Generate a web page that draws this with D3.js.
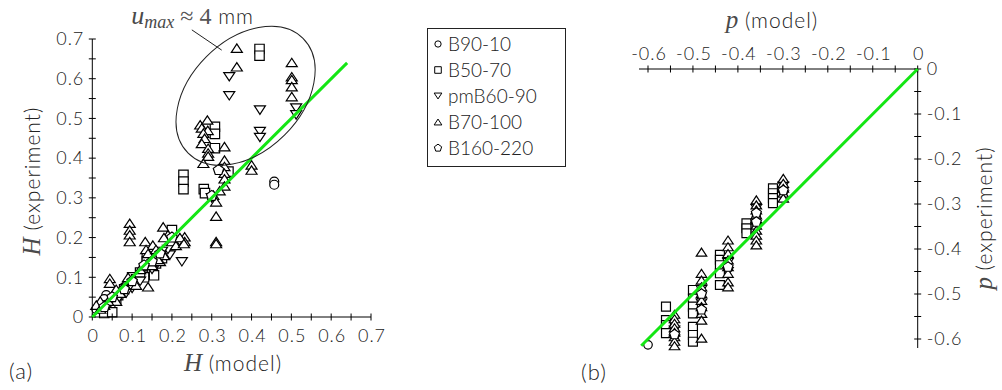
<!DOCTYPE html>
<html>
<head>
<meta charset="utf-8">
<script src="https://cdn.jsdelivr.net/npm/d3@7"></script>
<style>
  body { margin: 0; background: #fff; }
  svg text { font-family: Lato, "DejaVu Sans", sans-serif; font-weight: 300; fill: #222; }
  .math { font-family: "Liberation Serif", "DejaVu Serif", serif; font-style: italic; font-weight: 400; fill: #4a4a4a; letter-spacing: 0; }
  .roman { font-family: "Liberation Serif", "DejaVu Serif", serif; font-weight: 400; fill: #555; }
  .tick text { letter-spacing: 1px; }
</style>
</head>
<body>
<svg id="chart" width="1002" height="390"></svg>
<script>
// ---------- (a) H: model vs experiment, [model, experiment] ----------
const hB90_10 = [[0.457,0.341],[0.457,0.333],[0.035,0.055],[0.03,0.045],[0.02,0.03],[0.06,0.06],
  [0.08,0.075],[0.22,0.19],[0.2,0.18],[0.15,0.15],[0.01,0.02]];
const hB50_70 = [[0.42,0.675],[0.42,0.658],[0.308,0.479],[0.308,0.461],[0.308,0.425],[0.229,0.358],
  [0.229,0.341],[0.229,0.322],[0.28,0.322],[0.283,0.312],[0.342,0.366],[0.2,0.219],[0.137,0.152],
  [0.137,0.14],[0.14,0.128],[0.15,0.115],[0.155,0.105],[0.1,0.1],[0.11,0.095],[0.08,0.07],
  [0.065,0.055],[0.045,0.03],[0.035,0.02],[0.03,0.01],[0.05,0.012],[0.175,0.16],[0.175,0.148],
  [0.13,0.1],[0.12,0.112],[0.06,0.045],[0.16,0.135]];
const hPmB60_90 = [[0.344,0.605],[0.344,0.557],[0.421,0.521],[0.421,0.467],[0.421,0.452],[0.512,0.526],
  [0.512,0.509],[0.225,0.139],[0.195,0.156],[0.19,0.17],[0.16,0.13],[0.12,0.09],[0.1,0.072],
  [0.085,0.06],[0.065,0.045],[0.15,0.12],[0.22,0.19],[0.3,0.3],[0.04,0.03],[0.175,0.165]];
const hB70_100 = [[0.363,0.677],[0.363,0.63],[0.501,0.641],[0.501,0.605],[0.501,0.598],[0.501,0.58],
  [0.501,0.555],[0.271,0.484],[0.275,0.476],[0.289,0.496],[0.29,0.47],[0.279,0.463],[0.282,0.45],
  [0.275,0.437],[0.291,0.425],[0.291,0.413],[0.291,0.405],[0.279,0.387],[0.332,0.429],[0.332,0.395],
  [0.332,0.379],[0.332,0.362],[0.332,0.348],[0.332,0.33],[0.4,0.383],[0.4,0.37],[0.304,0.307],
  [0.311,0.29],[0.311,0.254],[0.311,0.19],[0.311,0.185],[0.32,0.318],
  [0.094,0.236],[0.094,0.219],[0.094,0.207],[0.094,0.19],[0.133,0.19],[0.152,0.181],[0.178,0.227],
  [0.19,0.207],[0.232,0.202],[0.232,0.19],[0.14,0.076],[0.044,0.097],[0.044,0.085],[0.135,0.17],
  [0.14,0.16],[0.16,0.17],[0.18,0.2],[0.155,0.15],[0.17,0.14],[0.2,0.19],[0.21,0.18],[0.12,0.12],
  [0.1,0.09],[0.08,0.08],[0.06,0.07],[0.05,0.05],[0.02,0.04],[0.01,0.03],[0.03,0.03],[0.06,0.04],
  [0.09,0.1],[0.11,0.08],[0.15,0.13],[0.07,0.06],[0.04,0.04],[0.02,0.02],[0.22,0.2],[0.18,0.155],
  [0.165,0.145],[0.23,0.185]];
const hB160_220 = [[0.317,0.37],[0.3,0.305],[0.2,0.2],[0.15,0.14],[0.1,0.09],[0.05,0.05],[0.17,0.16],
  [0.08,0.07],[0.13,0.13],[0.03,0.025]];

// ---------- (b) p: model vs experiment, [model, experiment] ----------
const pB90_10 = [[-0.6,-0.613],[-0.299,-0.27],[-0.359,-0.33]];
const pB50_70 = [[-0.56,-0.528],[-0.56,-0.558],[-0.56,-0.569],[-0.56,-0.587],
  [-0.5,-0.491],[-0.5,-0.51],[-0.5,-0.528],[-0.5,-0.543],[-0.5,-0.573],[-0.5,-0.591],[-0.5,-0.606],
  [-0.44,-0.413],[-0.44,-0.424],[-0.44,-0.436],[-0.44,-0.454],[-0.44,-0.48],
  [-0.381,-0.343],[-0.381,-0.354],[-0.381,-0.365],
  [-0.322,-0.265],[-0.322,-0.276],[-0.322,-0.287],[-0.322,-0.298]];
const pPmB60_90 = [[-0.541,-0.58],[-0.541,-0.6],[-0.481,-0.49],[-0.481,-0.52],[-0.422,-0.43],
  [-0.422,-0.45],[-0.359,-0.31],[-0.359,-0.35],[-0.299,-0.26],[-0.299,-0.28]];
const pB70_100 = [[-0.541,-0.545],[-0.541,-0.555],[-0.541,-0.565],[-0.541,-0.575],[-0.541,-0.585],
  [-0.541,-0.595],[-0.541,-0.605],[-0.541,-0.615],
  [-0.481,-0.407],[-0.481,-0.454],[-0.481,-0.469],[-0.481,-0.484],[-0.481,-0.499],[-0.481,-0.514],
  [-0.481,-0.528],[-0.481,-0.543],[-0.481,-0.558],[-0.481,-0.598],
  [-0.422,-0.38],[-0.422,-0.395],[-0.422,-0.41],[-0.422,-0.424],[-0.422,-0.439],[-0.422,-0.454],
  [-0.422,-0.473],[-0.422,-0.484],
  [-0.359,-0.291],[-0.359,-0.302],[-0.359,-0.313],[-0.359,-0.324],[-0.359,-0.336],[-0.359,-0.347],
  [-0.359,-0.358],[-0.359,-0.369],[-0.359,-0.38],[-0.359,-0.391],
  [-0.299,-0.243],[-0.299,-0.254],[-0.299,-0.265],[-0.299,-0.276],[-0.299,-0.287]];
const pB160_220 = [[-0.541,-0.59],[-0.481,-0.5],[-0.481,-0.535],[-0.422,-0.44],[-0.359,-0.32],
  [-0.359,-0.34],[-0.299,-0.27]];

// ---------- legend, ticks, reference lines ----------
const seriesNames = ["B90-10", "B50-70", "pmB60-90", "B70-100", "B160-220"];
const hTicks = [0, 0.1, 0.2, 0.3, 0.4, 0.5, 0.6, 0.7];
const hMinorTicks = [0.05, 0.15, 0.25, 0.35, 0.45, 0.55, 0.65];
const pTicks = [-0.6, -0.5, -0.4, -0.3, -0.2, -0.1, 0];
const pMinorTicks = [-0.55, -0.45, -0.35, -0.25, -0.15, -0.05];
const hIdentity = [[0, 0], [0.64, 0.64]];
const pIdentity = [[0, 0], [-0.615, -0.615]];

// ---------- marker shapes ----------
function markerPath(kind, s) {
  const p = d3.path();
  if (kind === 0) { p.arc(0, 0, s * 0.45, 0, 2 * Math.PI); }
  else if (kind === 1) { const h = s * 0.47; p.rect(-h, -h, 2 * h, 2 * h); }
  else if (kind === 2) { const w = s * 0.55, h = s * 0.42; p.moveTo(-w, -h); p.lineTo(w, -h); p.lineTo(0, h); p.closePath(); }
  else if (kind === 3) { const w = s * 0.55, h = s * 0.42; p.moveTo(-w, h); p.lineTo(w, h); p.lineTo(0, -h); p.closePath(); }
  else {
    const r = s * 0.55;
    for (let k = 0; k < 5; k++) {
      const a = -Math.PI / 2 + k * 2 * Math.PI / 5;
      if (k === 0) p.moveTo(r * Math.cos(a), r * Math.sin(a)); else p.lineTo(r * Math.cos(a), r * Math.sin(a));
    }
    p.closePath();
  }
  return p.toString();
}

const svg = d3.select("#chart");
const green = "#14e614";
const tickFont = 18;
const fmt = d => d === 0 ? "0" : d.toFixed(1);

function drawSeries(g, sets, x, y, size) {
  sets.forEach((data, kind) => {
    g.append("g").selectAll("path").data(data).join("path")
      .attr("d", markerPath(kind, size))
      .attr("transform", d => `translate(${x(d[0])},${y(d[1])})`)
      .attr("fill", "#fff").attr("stroke", "#000").attr("stroke-width", 1.2);
  });
}

function crossTicks(g, vals, pos, horizontal, at) {
  g.append("g").selectAll("line").data(vals).join("line")
    .attr("x1", d => horizontal ? pos(d) : at - 3.5)
    .attr("x2", d => horizontal ? pos(d) : at + 3.5)
    .attr("y1", d => horizontal ? at - 3.5 : pos(d))
    .attr("y2", d => horizontal ? at + 3.5 : pos(d))
    .attr("stroke", "#000").attr("stroke-width", 1);
}

function styleAxis(a) {
  a.select(".domain").remove();
  a.attr("font-family", null).attr("font-size", null);
  a.selectAll("text").attr("font-size", tickFont).attr("fill", "#222");
}

// ================= panel (a) =================
const xL = d3.scaleLinear().domain([0, 0.7]).range([92.3, 371]);
const yL = d3.scaleLinear().domain([0, 0.7]).range([317, 39]);
const gA = svg.append("g");

drawSeries(gA, [hB90_10, hB50_70, hPmB60_90, hB70_100, hB160_220], xL, yL, 10);

gA.append("line").attr("x1", xL(0)).attr("x2", xL(0.7)).attr("y1", yL(0)).attr("y2", yL(0))
  .attr("stroke", "#000").attr("stroke-width", 1);
gA.append("line").attr("x1", xL(0)).attr("x2", xL(0)).attr("y1", yL(0)).attr("y2", yL(0.7))
  .attr("stroke", "#000").attr("stroke-width", 1);
crossTicks(gA, hTicks.concat(hMinorTicks), xL, true, yL(0));
crossTicks(gA, hTicks.concat(hMinorTicks), yL, false, xL(0));

const axAx = gA.append("g").attr("transform", `translate(0,${yL(0)})`)
  .call(d3.axisBottom(xL).tickValues(hTicks).tickSize(0).tickPadding(12).tickFormat(fmt));
styleAxis(axAx);
axAx.selectAll("text").attr("dx", "0.5px");
const axAy = gA.append("g").attr("transform", `translate(${xL(0)},0)`)
  .call(d3.axisLeft(yL).tickValues(hTicks).tickSize(0).tickPadding(8).tickFormat(fmt));
styleAxis(axAy);

gA.append("line")
  .attr("x1", xL(hIdentity[0][0])).attr("y1", yL(hIdentity[0][1]))
  .attr("x2", xL(hIdentity[1][0])).attr("y2", yL(hIdentity[1][1]))
  .attr("stroke", green).attr("stroke-width", 3);

// outlier group annotation
const ell = { cx: 0.385, cy: 0.557, a: 0.204, b: 0.139 };
gA.append("ellipse")
  .attr("cx", 0).attr("cy", 0)
  .attr("rx", xL(ell.a) - xL(0)).attr("ry", xL(ell.b) - xL(0))
  .attr("transform", `translate(${xL(ell.cx)},${yL(ell.cy)}) rotate(-45)`)
  .attr("fill", "none").attr("stroke", "#222").attr("stroke-width", 1);
gA.append("line")
  .attr("x1", xL(0.25)).attr("y1", yL(0.723)).attr("x2", xL(0.325)).attr("y2", yL(0.672))
  .attr("stroke", "#222").attr("stroke-width", 1);
const ann = gA.append("text").attr("x", xL(0.252)).attr("y", 24).attr("text-anchor", "middle");
ann.append("tspan").attr("class", "math").attr("font-size", 26).text("u");
ann.append("tspan").attr("class", "math").attr("font-size", 18).attr("dy", 4).text("max");
ann.append("tspan").attr("class", "roman").attr("font-size", 24).attr("dy", -4).text(" \u2248 4");
ann.append("tspan").attr("font-size", 21).attr("letter-spacing", "1px").text(" mm");

const xtA = gA.append("text").attr("x", 233).attr("y", 371).attr("text-anchor", "middle");
xtA.append("tspan").attr("class", "math").attr("font-size", 25).text("H");
xtA.append("tspan").attr("font-size", 21).attr("letter-spacing", "1px").text(" (model)");

const ytA = gA.append("text").attr("transform", "translate(40,181) rotate(-90)").attr("text-anchor", "middle");
ytA.append("tspan").attr("class", "math").attr("font-size", 25).text("H");
ytA.append("tspan").attr("font-size", 21).attr("letter-spacing", "1px").text(" (experiment)");

gA.append("text").attr("x", 9).attr("y", 379).attr("font-size", 22).attr("letter-spacing", "1px").text("(a)");

// ================= legend =================
const lg = svg.append("g");
lg.append("rect").attr("x", 427.5).attr("y", 28.5).attr("width", 138).attr("height", 138)
  .attr("fill", "#fff").attr("stroke", "#222").attr("stroke-width", 1);
const ly = d3.scalePoint().domain(seriesNames).range([44, 148]);
seriesNames.forEach((name, kind) => {
  lg.append("path").attr("d", markerPath(kind, 7))
    .attr("transform", `translate(438,${ly(name)})`)
    .attr("fill", "#fff").attr("stroke", "#000").attr("stroke-width", 1);
  lg.append("text").attr("x", 448).attr("y", ly(name)).attr("dy", "0.36em")
    .attr("font-size", 19).text(name);
});

// ================= panel (b) =================
const xR = d3.scaleLinear().domain([-0.6, 0]).range([648, 917.7]);
const yR = d3.scaleLinear().domain([-0.6, 0]).range([339, 69]);
const gB = svg.append("g");

drawSeries(gB, [pB90_10, pB50_70, pPmB60_90, pB70_100, pB160_220], xR, yR, 9.5);

gB.append("line").attr("x1", xR(-0.62)).attr("x2", xR(0)).attr("y1", yR(0)).attr("y2", yR(0))
  .attr("stroke", "#000").attr("stroke-width", 1);
gB.append("line").attr("x1", xR(0)).attr("x2", xR(0)).attr("y1", yR(0)).attr("y2", yR(-0.62))
  .attr("stroke", "#000").attr("stroke-width", 1);
crossTicks(gB, pTicks.concat(pMinorTicks), xR, true, yR(0));
crossTicks(gB, pTicks.concat(pMinorTicks), yR, false, xR(0));

const axBx = gB.append("g").attr("transform", `translate(0,${yR(0)})`)
  .call(d3.axisTop(xR).tickValues(pTicks).tickSize(0).tickPadding(9).tickFormat(fmt));
styleAxis(axBx);
axBx.selectAll("text").attr("dx", "0.5px");
styleAxis(gB.append("g").attr("transform", `translate(${xR(0)},0)`)
  .call(d3.axisRight(yR).tickValues(pTicks).tickSize(0).tickPadding(9).tickFormat(fmt)));

gB.append("line")
  .attr("x1", xR(pIdentity[0][0])).attr("y1", yR(pIdentity[0][1]))
  .attr("x2", xR(pIdentity[1][0])).attr("y2", yR(pIdentity[1][1]))
  .attr("stroke", green).attr("stroke-width", 3);

const xtB = gB.append("text").attr("x", 772).attr("y", 28).attr("text-anchor", "middle");
xtB.append("tspan").attr("class", "math").attr("font-size", 25).text("p");
xtB.append("tspan").attr("font-size", 21).attr("letter-spacing", "1px").text(" (model)");

const ytB = gB.append("text").attr("transform", "translate(992,218) rotate(-90)").attr("text-anchor", "middle");
ytB.append("tspan").attr("class", "math").attr("font-size", 25).text("p");
ytB.append("tspan").attr("font-size", 21).attr("letter-spacing", "1px").text(" (experiment)");

gB.append("text").attr("x", 581).attr("y", 380).attr("font-size", 22).attr("letter-spacing", "1px").text("(b)");
</script>
</body>
</html>
